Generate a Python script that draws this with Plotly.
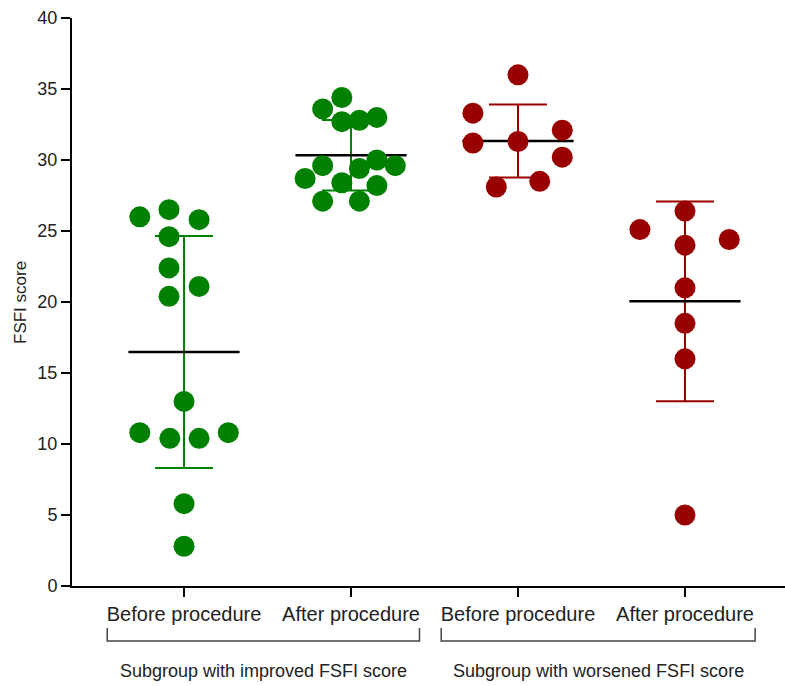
import numpy as np
import plotly.graph_objects as go

# ---- data ----
categories = ["Before procedure", "After procedure", "Before procedure", "After procedure"]
subgroups = ["Subgroup with improved FSFI score", "Subgroup with worsened FSFI score"]

improved_before = [26.0, 26.5, 25.8, 24.6, 22.4, 21.1, 20.4, 13.0, 10.8, 10.4, 10.4, 10.8, 5.8, 2.8]
improved_after = [34.4, 33.6, 32.7, 32.8, 33.0, 29.6, 28.7, 28.4, 29.4, 30.0, 29.6, 28.2, 27.1, 27.1]
worsened_before = [36.0, 33.3, 31.2, 31.3, 32.1, 30.2, 28.1, 28.5]
worsened_after = [26.4, 25.1, 24.4, 24.0, 21.0, 18.5, 16.0, 5.0]

# horizontal scatter offsets (category units) for the dot layout
improved_before_dx = [-0.265, -0.09, 0.09, -0.09, -0.09, 0.09, -0.09, 0, -0.265, -0.085, 0.09, 0.265, 0, 0]
improved_after_dx = [-0.055, -0.17, -0.055, 0.05, 0.155, -0.17, -0.275, -0.055, 0.05, 0.155, 0.265, 0.155, -0.17, 0.05]
worsened_before_dx = [0, -0.27, -0.27, 0, 0.265, 0.265, -0.13, 0.13]
worsened_after_dx = [0, -0.27, 0.265, 0, 0, 0, 0, 0]

GREEN = "#008000"
RED = "#990000"

groups = [
    (1, improved_before, improved_before_dx, GREEN),
    (2, improved_after, improved_after_dx, GREEN),
    (3, worsened_before, worsened_before_dx, RED),
    (4, worsened_after, worsened_after_dx, RED),
]

fig = go.Figure()

# error bars (mean ± SD)
for pos, vals, dx, col in groups:
    m = float(np.mean(vals))
    sd = float(np.std(vals, ddof=1))
    fig.add_trace(go.Scatter(
        x=[pos], y=[m], mode="markers",
        marker=dict(size=1, opacity=0, color=col),
        error_y=dict(type="data", array=[sd], thickness=2, width=29, color=col),
        showlegend=False, hoverinfo="skip"))

# mean lines
for pos, vals, dx, col in groups:
    m = float(np.mean(vals))
    fig.add_trace(go.Scatter(
        x=[pos - 0.333, pos + 0.333], y=[m, m], mode="lines",
        line=dict(color="#000000", width=2.5),
        showlegend=False, hoverinfo="skip"))

# points
for pos, vals, dx, col in groups:
    fig.add_trace(go.Scatter(
        x=[pos + d for d in dx], y=vals, mode="markers",
        marker=dict(size=21, color=col, line=dict(width=0)),
        showlegend=False, cliponaxis=False))

X0, X1 = 0.329, 4.599
W, H = 785, 686
ML, MR, MT, MB = 72, 0, 18, 100


def px_x(xv):
    return (xv - X0) / (X1 - X0)


def py(pix):
    return (H - MB - pix) / (H - MT - MB)


FONT = "Liberation Sans, Arial, sans-serif"

fig.update_layout(
    width=W, height=H,
    margin=dict(l=ML, r=MR, t=MT, b=MB, pad=0),
    paper_bgcolor="white", plot_bgcolor="white",
    font=dict(family=FONT, color="#222222"),
    showlegend=False,
    xaxis=dict(
        range=[X0, X1], tickmode="array", tickvals=[1, 2, 3, 4], ticktext=categories,
        showgrid=False, zeroline=False, showline=True, linecolor="#000000", linewidth=2,
        ticks="outside", ticklen=9, tickwidth=2, tickcolor="#000000",
        tickfont=dict(size=20, family=FONT, color="#222222"),
    ),
    yaxis=dict(
        range=[0, 40], tickmode="array", tickvals=[0, 5, 10, 15, 20, 25, 30, 35, 40],
        showgrid=False, zeroline=False, showline=True, linecolor="#000000", linewidth=2,
        ticks="outside", ticklen=9, tickwidth=2, tickcolor="#000000",
        tickfont=dict(size=18, family=FONT, color="#222222"),
    ),
)

# y-axis title
fig.add_annotation(text="FSFI score", xref="paper", yref="paper",
                   x=(20 - ML) / (W - ML - MR), y=py(303), textangle=-90,
                   showarrow=False, xanchor="center", yanchor="middle",
                   font=dict(size=17, family=FONT, color="#222222"))

# group brackets and labels
brackets = [(1 - 0.46, 2 + 0.41, subgroups[0]), (3 - 0.46, 4 + 0.42, subgroups[1])]
for xa, xb, label in brackets:
    pa, pb = px_x(xa), px_x(xb)
    ytop, ybot = py(628), py(641)
    fig.add_shape(type="path", xref="paper", yref="paper",
                  path=f"M {pa},{ytop} L {pa},{ybot} L {pb},{ybot} L {pb},{ytop}",
                  line=dict(color="#444444", width=1.5))
    fig.add_annotation(text=label, xref="paper", yref="paper",
                       x=(pa + pb) / 2, y=py(671), showarrow=False,
                       xanchor="center", yanchor="middle",
                       font=dict(size=18, family=FONT, color="#222222"))

fig.write_html("out.html",
               config={"displayModeBar": False},
               post_script="document.body.style.margin='0px';document.body.style.padding='0px';")
